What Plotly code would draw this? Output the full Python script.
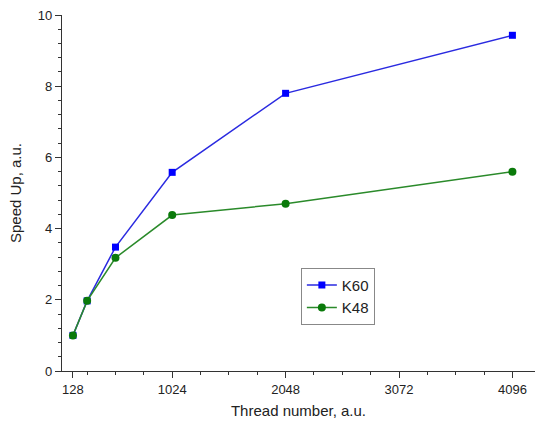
import plotly.graph_objects as go

threads = [128, 256, 512, 1024, 2048, 4096]
k60 = [1.0, 1.97, 3.48, 5.58, 7.8, 9.43]
k48 = [1.0, 1.97, 3.18, 4.38, 4.7, 5.6]
x_ticks = [128, 1024, 2048, 3072, 4096]
y_ticks = [0, 2, 4, 6, 8, 10]

fig = go.Figure()
fig.add_trace(go.Scatter(x=threads, y=k60, name="K60", mode="lines+markers",
                         line=dict(color="#2a2ae0", width=1.5),
                         marker=dict(symbol="square", size=7, color="#0000ff")))
fig.add_trace(go.Scatter(x=threads, y=k48, name="K48", mode="lines+markers",
                         line=dict(color="#2a8a2a", width=1.5),
                         marker=dict(symbol="circle", size=8, color="#0a7a0a")))

font = "Liberation Sans, Arial, sans-serif"
fig.update_layout(
    width=540, height=428,
    margin=dict(l=62, r=5, t=15, b=57),
    paper_bgcolor="white", plot_bgcolor="white",
    font=dict(family=font, color="#222"),
    showlegend=True,
    legend=dict(x=0.505, y=0.29, xanchor="left", yanchor="top",
                bordercolor="#888", borderwidth=1, bgcolor="white",
                font=dict(size=15, family=font), tracegroupgap=0,
                itemwidth=30),
)
fig.update_xaxes(range=[29, 4300], tickvals=x_ticks, ticktext=[str(v) for v in x_ticks],
                 showline=True, linecolor="#333", linewidth=1.2, showgrid=False, zeroline=False,
                 ticks="outside", ticklen=6, tickcolor="#333",
                 minor=dict(tick0=0, dtick=256, ticks="outside", ticklen=3, tickcolor="#333", showgrid=False),
                 tickfont=dict(size=13, family=font),
                 title=dict(text="Thread number, a.u.", font=dict(size=15, family=font), standoff=9))
fig.update_yaxes(range=[0, 10], tickvals=y_ticks,
                 showline=True, linecolor="#333", linewidth=1.2, showgrid=False, zeroline=False,
                 ticks="outside", ticklen=6, tickcolor="#333",
                 minor=dict(tick0=0, dtick=0.4, ticks="outside", ticklen=3, tickcolor="#333", showgrid=False),
                 tickfont=dict(size=13, family=font),
                 title=dict(text="Speed Up, a.u.", font=dict(size=15, family=font), standoff=12))

fig.write_html("out.html")
